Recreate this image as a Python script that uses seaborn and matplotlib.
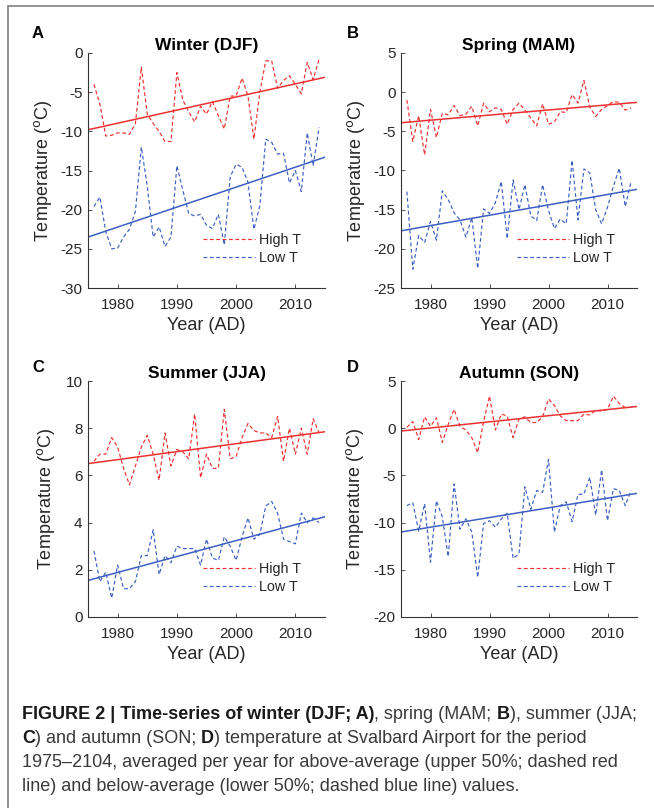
import numpy as np
import pandas as pd
import matplotlib
matplotlib.use("Agg")
import matplotlib.pyplot as plt
import seaborn as sns
from matplotlib import font_manager
from matplotlib.lines import Line2D

# ---------------- data ----------------
years = list(range(1976, 2015))
trend_years = [1975, 2015]

winter_high = [-4.0, -6.5, -10.6, -10.5, -10.2, -10.2, -10.4, -9.0, -1.8, -7.8,
               -9.0, -10.0, -11.3, -11.3, -2.5, -6.0, -7.5, -8.8, -6.8, -7.8,
               -6.2, -8.0, -9.7, -5.5, -5.5, -3.2, -5.5, -11.0, -5.0, -1.0,
               -1.0, -4.5, -3.5, -2.9, -4.0, -5.2, -1.2, -3.4, -0.8]
winter_low = [-19.6, -18.4, -22.8, -25.0, -24.9, -23.5, -22.5, -20.2, -12.0, -17.0,
              -23.5, -22.2, -24.7, -23.5, -14.4, -17.5, -20.5, -20.8, -20.6, -22.0,
              -22.4, -20.6, -24.5, -15.8, -14.2, -14.6, -16.5, -22.5, -19.5, -11.0,
              -11.4, -12.9, -12.8, -16.6, -15.0, -17.7, -10.2, -14.4, -9.5]
winter_high_trend = [-9.8, -3.1]
winter_low_trend = [-23.5, -13.3]

spring_high = [-1.0, -6.3, -3.0, -8.0, -2.2, -5.8, -2.7, -2.9, -1.7, -3.0,
               -2.8, -1.8, -4.3, -1.4, -2.5, -2.0, -2.2, -4.1, -2.2, -1.4,
               -2.3, -3.3, -4.3, -1.5, -4.1, -3.8, -2.5, -2.6, -0.3, -1.4,
               1.5, -1.9, -3.1, -2.2, -1.7, -1.2, -1.3, -2.3, -2.0]
spring_low = [-12.7, -22.6, -18.3, -19.2, -16.5, -18.9, -12.6, -13.7, -15.4, -16.3,
              -18.5, -16.0, -22.5, -14.9, -15.5, -14.1, -11.4, -18.7, -11.2, -15.0,
              -11.8, -15.8, -16.4, -11.8, -15.1, -17.4, -16.2, -16.8, -8.7, -16.3,
              -9.8, -10.3, -15.0, -16.8, -14.7, -12.0, -9.7, -14.6, -11.4]
spring_high_trend = [-3.9, -1.3]
spring_low_trend = [-17.7, -12.4]

summer_high = [6.6, 6.9, 6.9, 7.6, 7.2, 6.3, 5.6, 6.4, 7.2, 7.7,
               6.9, 5.8, 7.8, 6.4, 7.1, 7.0, 6.7, 8.6, 5.9, 6.9,
               6.3, 6.3, 8.8, 6.7, 6.8, 7.6, 8.2, 7.9, 7.8, 7.8,
               7.6, 8.5, 6.6, 8.0, 6.9, 8.0, 6.9, 8.4, 7.8]
summer_low = [2.8, 1.5, 1.9, 0.8, 2.2, 1.2, 1.2, 1.5, 2.6, 2.6,
              3.7, 1.8, 2.6, 2.3, 3.0, 2.9, 2.9, 2.9, 2.2, 3.3,
              2.5, 2.4, 3.4, 3.0, 2.4, 3.4, 4.2, 3.3, 3.5, 4.7,
              4.9, 4.4, 3.3, 3.2, 3.1, 4.4, 4.0, 4.2, 4.0]
summer_high_trend = [6.5, 7.85]
summer_low_trend = [1.55, 4.25]

autumn_high = [0.1, 0.7, -1.2, 1.2, 0.2, 1.1, -1.5, 0.4, 2.0, 0.2,
               -0.2, -1.0, -2.6, 0.7, 3.4, -0.2, 1.5, 1.3, -1.0, 1.0,
               1.2, 0.6, 0.6, 1.2, 3.1, 2.4, 1.3, 0.8, 0.8, 0.8,
               1.5, 1.4, 1.9, 1.8, 2.0, 3.4, 2.6, 2.2, 2.2]
autumn_low = [-8.2, -7.9, -10.9, -8.0, -14.2, -7.7, -9.4, -13.6, -5.9, -10.7,
              -9.6, -11.0, -15.8, -10.1, -9.8, -10.5, -9.6, -9.0, -13.8, -13.3,
              -6.2, -8.6, -6.6, -6.8, -3.3, -11.0, -8.2, -7.8, -9.9, -7.0,
              -7.0, -5.2, -9.2, -4.4, -9.8, -6.4, -6.6, -8.2, -6.6]
autumn_high_trend = [-0.3, 2.3]
autumn_low_trend = [-11.0, -6.9]

titles = ["Winter (DJF)", "Spring (MAM)", "Summer (JJA)", "Autumn (SON)"]
letters = ["A", "B", "C", "D"]
series_labels = ["High T", "Low T"]
xticks = [1980, 1990, 2000, 2010]
yticks_list = [[-30, -25, -20, -15, -10, -5, 0],
               [-25, -20, -15, -10, -5, 0, 5],
               [0, 2, 4, 6, 8, 10],
               [-20, -15, -10, -5, 0, 5]]

# ---------------- style ----------------
sns.set_style("ticks")
plt.rcParams["font.family"] = ["Liberation Sans", "DejaVu Sans"]
plt.rcParams["axes.unicode_minus"] = False
plt.rcParams["xtick.direction"] = "in"
plt.rcParams["ytick.direction"] = "in"
plt.rcParams["axes.edgecolor"] = "#333333"
plt.rcParams["xtick.color"] = "#333333"
plt.rcParams["ytick.color"] = "#333333"
plt.rcParams["xtick.labelcolor"] = "#262626"
plt.rcParams["ytick.labelcolor"] = "#262626"

RED = "#ee3030"
BLUE = "#3d5fc2"

W, H = 654, 808
fig = plt.figure(figsize=(W / 100, H / 100), dpi=100)
fig.patch.set_facecolor("white")

# axes boxes in pixels: left, top, right, bottom
boxes = [(88, 53, 325, 288), (401, 53, 637, 288),
         (88, 381, 325, 617), (401, 381, 637, 617)]
ylabel_x = [-0.143, -0.144, -0.13, -0.15]
legend_x = [0.485, 0.49, 0.485, 0.49]
letter_pos = [(32, 38), (347, 38), (32, 372), (347, 372)]

panels = [
    (winter_high, winter_low, winter_high_trend, winter_low_trend),
    (spring_high, spring_low, spring_high_trend, spring_low_trend),
    (summer_high, summer_low, summer_high_trend, summer_low_trend),
    (autumn_high, autumn_low, autumn_high_trend, autumn_low_trend),
]

for i, (hi, lo, hit, lot) in enumerate(panels):
    l, t, r, b = boxes[i]
    ax = fig.add_axes([l / W, 1 - b / H, (r - l) / W, (b - t) / H])
    df = pd.DataFrame({
        "Year": years + years,
        "T": hi + lo,
        "Series": [series_labels[0]] * len(years) + [series_labels[1]] * len(years),
    })
    sns.lineplot(data=df, x="Year", y="T", hue="Series", style="Series",
                 palette={series_labels[0]: RED, series_labels[1]: BLUE},
                 dashes={series_labels[0]: (3.2, 2.2), series_labels[1]: (3.2, 2.2)},
                 linewidth=0.85, ax=ax, legend=False, errorbar=None)
    dft = pd.DataFrame({
        "Year": trend_years + trend_years,
        "T": hit + lot,
        "Series": [series_labels[0]] * 2 + [series_labels[1]] * 2,
    })
    sns.lineplot(data=dft, x="Year", y="T", hue="Series",
                 palette={series_labels[0]: RED, series_labels[1]: BLUE},
                 linewidth=1.1, ax=ax, legend=False, errorbar=None)

    yt = yticks_list[i]
    ax.set_xlim(1975, 2015)
    ax.set_ylim(yt[0], yt[-1])
    ax.set_xticks(xticks)
    ax.set_yticks(yt)
    ax.tick_params(axis="both", labelsize=11, length=3, width=0.6)
    ax.tick_params(axis="x", pad=7)
    ax.tick_params(axis="y", pad=4)
    for s in ["top", "right"]:
        ax.spines[s].set_visible(False)
    for s in ["left", "bottom"]:
        ax.spines[s].set_linewidth(0.8)
    ax.set_xlabel("Year (AD)", fontsize=13, color="#262626", labelpad=4)
    ax.set_ylabel("Temperature ($^{\\rm o}$C)", fontsize=13, color="#262626")
    ax.yaxis.set_label_coords(ylabel_x[i], 0.5)
    ax.set_title(titles[i], fontsize=12.5, fontweight="bold", pad=2.5, color="black")

    leg = ax.legend(handles=ax.lines[:2], labels=series_labels, loc="center left",
                    bbox_to_anchor=(legend_x[i], 0.165), frameon=False,
                    fontsize=10.4, handlelength=3.6, handletextpad=0.3,
                    labelspacing=0.25, borderpad=0, borderaxespad=0)
    for txt in leg.get_texts():
        txt.set_color("#262626")

    lx, ly = letter_pos[i]
    fig.text(lx / W, 1 - ly / H, letters[i], fontsize=12, fontweight="bold",
             ha="left", va="baseline", color="black")

# ---------------- frame ----------------
fig.add_artist(Line2D([8 / W, 8 / W], [0, 1 - 6 / H], transform=fig.transFigure,
                      color="#8a8a8a", linewidth=1.3))
fig.add_artist(Line2D([8 / W, 1], [1 - 6 / H, 1 - 6 / H], transform=fig.transFigure,
                      color="#8a8a8a", linewidth=1.3))

# ---------------- caption ----------------
names = {f.name for f in font_manager.fontManager.ttflist}
cap_family = "Liberation Sans Narrow" if "Liberation Sans Narrow" in names else "Liberation Sans"

caption_lines = [
    [("FIGURE 2 | Time-series of winter (DJF; A)", True), (", spring (MAM; ", False),
     ("B", True), ("), summer (JJA;", False)],
    [("C", True), (") and autumn (SON; ", False), ("D", True),
     (") temperature at Svalbard Airport for the period", False)],
    [("1975\u20132104, averaged per year for above-average (upper 50%; dashed red", False)],
    [("line) and below-average (lower 50%; dashed blue line) values.", False)],
]
renderer = fig.canvas.get_renderer()


def text_width(s, bold, size):
    if not s:
        return 0.0
    t = fig.text(0, 0, "|" + s + "|", fontsize=size, family=cap_family,
                 fontweight="bold" if bold else "normal")
    w1 = t.get_window_extent(renderer).width
    t.remove()
    t = fig.text(0, 0, "||", fontsize=size, family=cap_family,
                 fontweight="bold" if bold else "normal")
    w2 = t.get_window_extent(renderer).width
    t.remove()
    return w1 - w2


def line_width(segs, size):
    return sum(text_width(s, b, size) for s, b in segs)


target = 612.0
size = 11.0
size = size * target / line_width(caption_lines[0], size)

x0 = 22
baselines = [719, 743, 767, 791]
for segs, yb in zip(caption_lines, baselines):
    x = x0
    for s, bold in segs:
        fig.text(x / W, 1 - yb / H, s, fontsize=size, family=cap_family,
                 fontweight="bold" if bold else "normal", ha="left", va="baseline",
                 color="#1a1a1a" if bold else "#3a3a3a")
        x += text_width(s, bold, size)

fig.savefig("out.png", dpi=100)
